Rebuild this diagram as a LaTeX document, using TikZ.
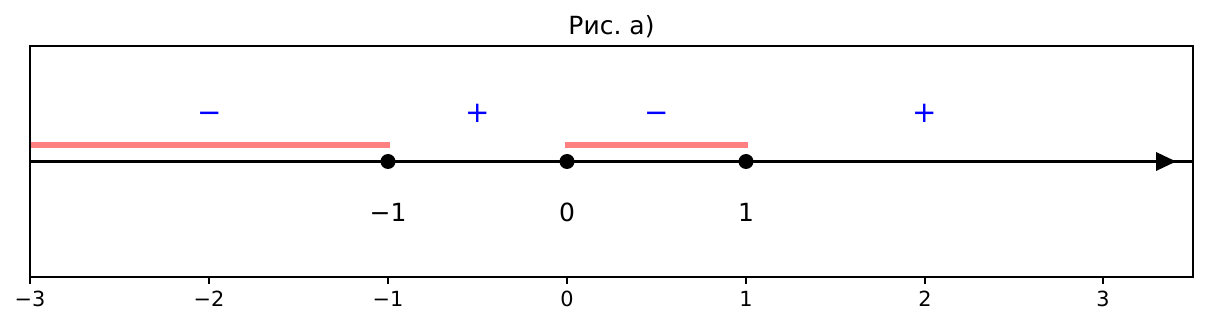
\documentclass[tikz,border=0pt]{standalone}
\usepackage{fontspec}
\setmainfont{DejaVu Sans}
\frenchspacing
\begin{document}
\begin{tikzpicture}[x=0.48pt,y=-0.48pt,
  frame/.style={draw=black,line width=0.8pt},
  tickmark/.style={draw=black,line width=0.8pt},
  ticklabel/.style={font=\fontsize{10}{12}\selectfont,anchor=north,inner sep=0pt},
  redseg/.style={draw={rgb,255:red,255;green,128;blue,128},line width=3pt},
  axisline/.style={draw=black,line width=1.5pt},
  dotnode/.style={circle,fill=black,inner sep=0pt,minimum size=15*0.48pt},
  ptlabel/.style={font=\fontsize{12}{14}\selectfont,inner sep=0pt},
  signlabel/.style={font=\fontsize{14}{16}\selectfont,text=blue,inner sep=0pt,text height=0.76em,text depth=0pt}]
\useasboundingbox (0,0) rectangle (1207,327);
% title
\node[font=\fontsize{12}{14}\selectfont,inner sep=0pt] (title) at (611.5,27) {Рис. а)};
% red segments
\coordinate (r1a) at (30,145); \coordinate (r1b) at (390,145);
\coordinate (r2a) at (565,145); \coordinate (r2b) at (748,145);
\draw[redseg] (r1a) -- (r1b);
\draw[redseg] (r2a) -- (r2b);
% axis line
\coordinate (al) at (30,161.5); \coordinate (ar) at (1193,161.5);
\draw[axisline] (al) -- (ar);
\fill[black] (1156,152) -- (1176,161.5) -- (1156,171) -- cycle;
% dots
\node[dotnode] (dm1) at (388,161.5) {};
\node[dotnode] (d0) at (567,161.5) {};
\node[dotnode] (d1) at (746,161.5) {};
% point labels
\node[ptlabel] (lm1) at (388,212) {−1};
\node[ptlabel] (l0) at (567,212) {0};
\node[ptlabel] (l1) at (746,212) {1};
% signs
\node[signlabel,anchor=base] (s1) at (210,123) {−};
\node[signlabel,anchor=base] (s2) at (478,123) {+};
\node[signlabel,anchor=base] (s3) at (657,123) {−};
\node[signlabel,anchor=base] (s4) at (925,123) {+};
% frame
\draw[frame] (30,46) rectangle (1193,277);
% ticks
\foreach \xx/\lab in {30/−3,209/−2,388/−1,567/0,746/1,925/2,1103/3}{
  \draw[tickmark] (\xx,277) -- (\xx,284);
  \node[ticklabel] at (\xx,291) {\lab};
}
\end{tikzpicture}
\end{document}
